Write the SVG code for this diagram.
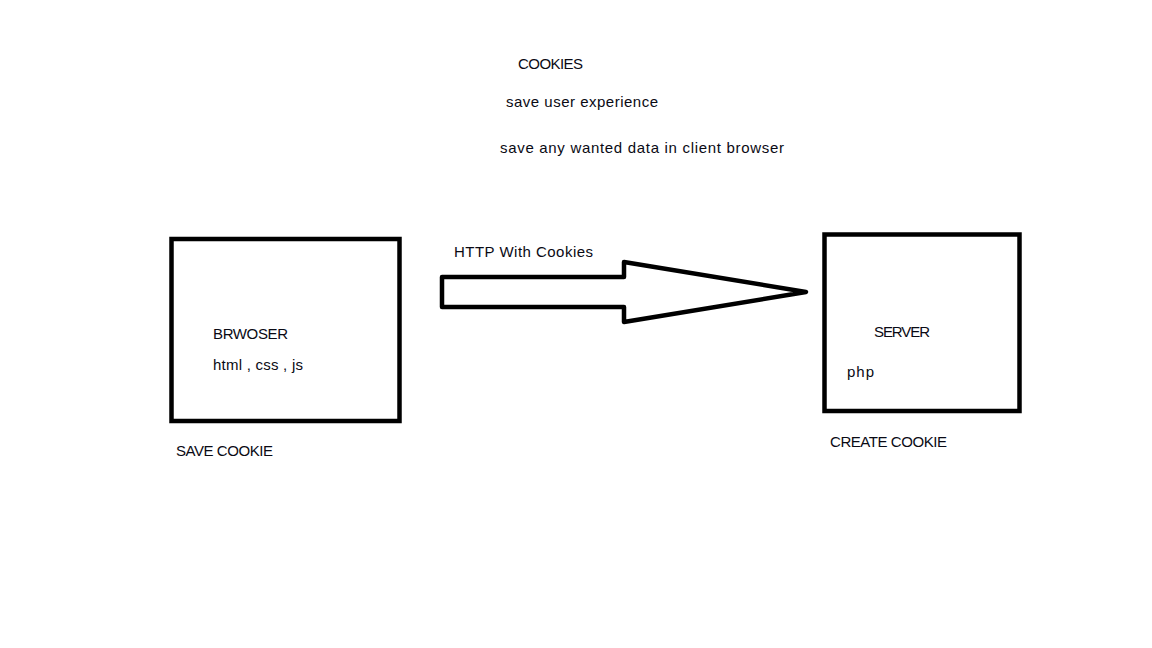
<svg xmlns="http://www.w3.org/2000/svg" width="1152" height="648" viewBox="0 0 1152 648">
<style>
text{font-family:"Liberation Sans",Arial,sans-serif;font-size:15px;fill:#0a0a14}
.box{fill:none;stroke:#000;stroke-width:4.5}
.arrow{fill:none;stroke:#000;stroke-width:4.5;stroke-linejoin:round}
</style>
<rect width="1152" height="648" fill="#fff"/>
<g id="title">
<text x="518" y="69" textLength="65">COOKIES</text>
<text x="506" y="107" textLength="152">save user experience</text>
<text x="500" y="153" textLength="284">save any wanted data in client browser</text>
</g>
<g id="browser">
<rect class="box" x="171.5" y="239" width="228" height="182"/>
<text x="213" y="339" textLength="75">BRWOSER</text>
<text x="213" y="370" textLength="90">html , css , js</text>
<text x="176" y="456" textLength="97">SAVE COOKIE</text>
</g>
<g id="server">
<rect class="box" x="824.5" y="234.5" width="195" height="176.5"/>
<text x="874" y="337" textLength="56">SERVER</text>
<text x="847" y="377" textLength="27">php</text>
<text x="830" y="447" textLength="117">CREATE COOKIE</text>
</g>
<g id="connectors">
<path class="arrow" d="M442,277 L624,277 L624,262 L806,292 L624,322 L624,307 L442,307 Z"/>
<text x="454" y="257" textLength="139">HTTP With Cookies</text>
</g>
</svg>
